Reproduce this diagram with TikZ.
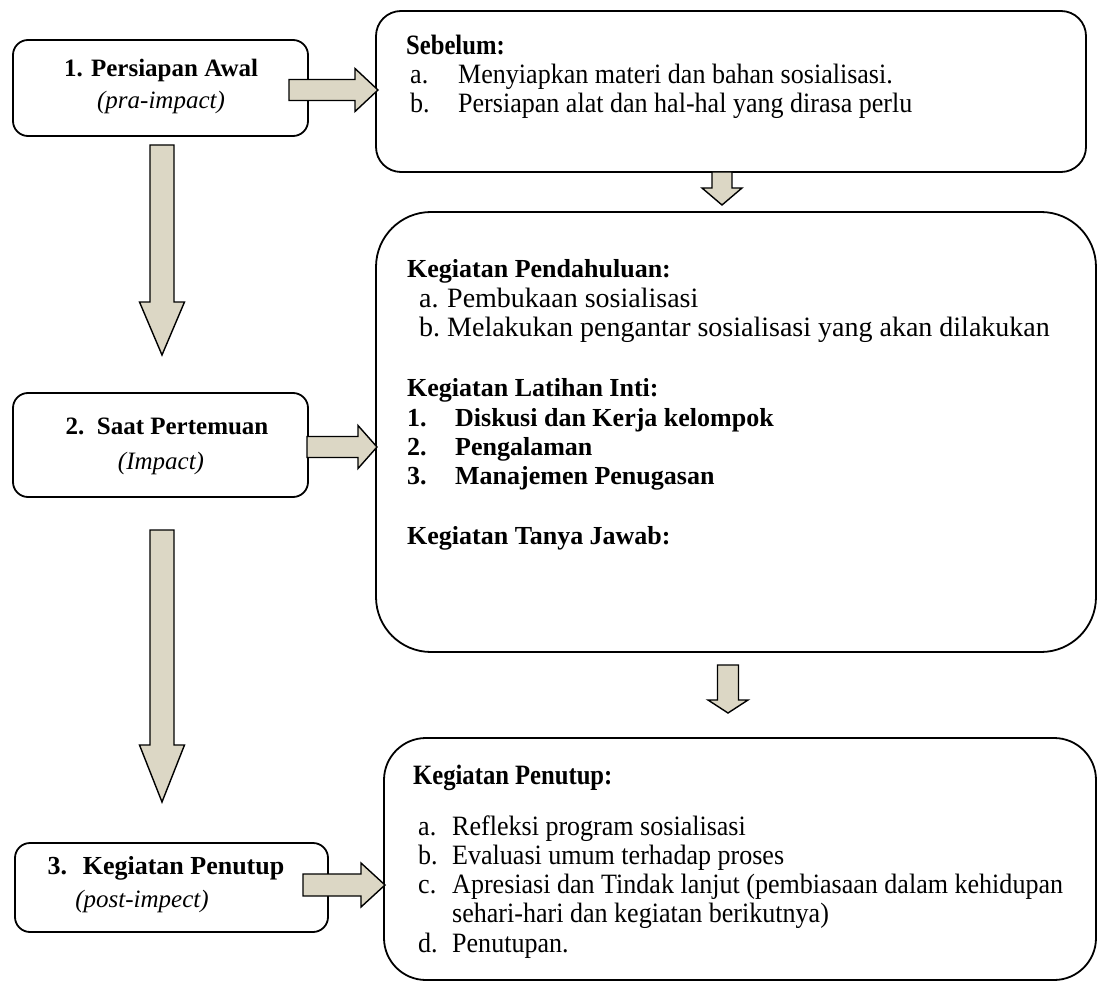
\documentclass[tikz,border=0pt]{standalone}
\usepackage{fontspec}
\setmainfont{Liberation Serif}
\newfontfamily\cond[FakeStretch=0.93]{Liberation Serif}
\newfontfamily\condb[FakeStretch=0.88]{Liberation Serif}
\definecolor{arrowfill}{RGB}{220,215,197}
\tikzset{
  box/.style={draw=black, line width=1.8pt},
  blk/.style={draw=black, line width=1.4pt, fill=arrowfill, line join=miter},
  ttl/.style={anchor=base, inner sep=0pt, font=\fontsize{25}{29}\selectfont\bfseries},
  sub/.style={anchor=base, inner sep=0pt, font=\fontsize{25}{29}\selectfont\itshape},
  txt/.style={anchor=base west, inner sep=0pt, font=\fontsize{28}{29}\selectfont},
  btxt/.style={anchor=base west, inner sep=0pt, font=\fontsize{26}{29}\selectfont\bfseries},
  ctx/.style={anchor=base west, inner sep=0pt, font=\fontsize{28}{29}\cond},
  cbtx/.style={anchor=base west, inner sep=0pt, font=\fontsize{28}{29}\condb\bfseries},
}
\newcommand{\blockR}[6]{\draw[blk] (#1,{#4-#5}) -- (#2,{#4-#5}) -- (#2,{#4-#6}) -- (#3,#4) -- (#2,{#4+#6}) -- (#2,{#4+#5}) -- (#1,{#4+#5}) -- cycle;}
\newcommand{\blockD}[6]{\draw[blk] ({#1-#5},#2) -- ({#1-#5},#3) -- ({#1-#6},#3) -- (#1,#4) -- ({#1+#6},#3) -- ({#1+#5},#3) -- ({#1+#5},#2) -- cycle;}
\begin{document}
\begin{tikzpicture}[x=1pt,y=-1pt]
\useasboundingbox (0,0) rectangle (1098,987);
% left boxes
\draw[box, rounded corners=15pt] (13,40) rectangle (308,136);
\node[ttl] (t1) at (161,77) {1. Persiapan Awal};
\node[sub] (s1) at (161,109) {(pra-impact)};
\draw[box, rounded corners=15pt] (13,393) rectangle (308,497);
\node[ttl] (t2) at (167,434) {2.\ \ Saat Pertemuan};
\node[sub] (s2) at (161,469) {(Impact)};
\draw[box, rounded corners=15pt] (15,843) rectangle (328,932);
\node[ttl, font=\fontsize{26}{29}\selectfont\bfseries] (t3) at (166,874) {3.\hspace{0.6em}Kegiatan Penutup};
\node[sub] (s3) at (142,907) {(post-impect)};
% right boxes
\draw[box, rounded corners=25pt] (376,11) rectangle (1086,172);
\draw[box, rounded corners=55pt] (376,212) rectangle (1096,652);
\draw[box, rounded corners=42pt] (384,738) rectangle (1096,980);
% Sebelum
\node[cbtx] (sb) at (406,55) {Sebelum:};
\node[ctx] (sba) at (410,84) {a.};
\node[ctx] (sbat) at (458,84) {Menyiapkan materi dan bahan sosialisasi.};
\node[ctx] (sbb) at (410,113) {b.};
\node[ctx] (sbbt) at (458,113) {Persiapan alat dan hal-hal yang dirasa perlu};
% Kegiatan
\node[btxt] (kp) at (407,277) {Kegiatan Pendahuluan:};
\node[txt] (kpa) at (419,307) {a.};
\node[txt] (kpat) at (447,307) {Pembukaan sosialisasi};
\node[txt] (kpb) at (419,336) {b.};
\node[txt] (kpbt) at (447,336) {Melakukan pengantar sosialisasi yang akan dilakukan};
\node[btxt] (kl) at (407,396) {Kegiatan Latihan Inti:};
\node[btxt] (kl1) at (407,426) {1.};
\node[btxt] (kl1t) at (455,426) {Diskusi dan Kerja kelompok};
\node[btxt] (kl2) at (407,455) {2.};
\node[btxt] (kl2t) at (455,455) {Pengalaman};
\node[btxt] (kl3) at (407,484) {3.};
\node[btxt] (kl3t) at (455,484) {Manajemen Penugasan};
\node[btxt] (kt) at (407,544) {Kegiatan Tanya Jawab:};
% Penutup
\node[cbtx] (pn) at (413,784) {Kegiatan Penutup:};
\node[ctx] (pna) at (418,835) {a.};
\node[ctx] (pnat) at (452,835) {Refleksi program sosialisasi};
\node[ctx] (pnb) at (418,864) {b.};
\node[ctx] (pnbt) at (452,864) {Evaluasi umum terhadap proses};
\node[ctx] (pnc) at (418,893) {c.};
\node[ctx] (pnct) at (452,893) {Apresiasi dan Tindak lanjut (pembiasaan dalam kehidupan};
\node[ctx] (pnct2) at (452,922) {sehari-hari dan kegiatan berikutnya)};
\node[ctx] (pnd) at (418,952) {d.};
\node[ctx] (pndt) at (452,952) {Penutupan.};
% block arrows
\blockR{289}{355}{378}{90}{10.5}{21.5}
\blockR{307}{358}{377}{447}{10.5}{21.5}
\blockR{303}{361}{385}{885}{11}{22}
\blockD{162}{145}{302}{355}{12}{22.5}
\blockD{162}{530}{745}{802}{12}{22.5}
\blockD{722}{172}{188}{205}{10}{20}
\blockD{728}{665}{700}{713}{10.5}{20}
\end{tikzpicture}
\end{document}
